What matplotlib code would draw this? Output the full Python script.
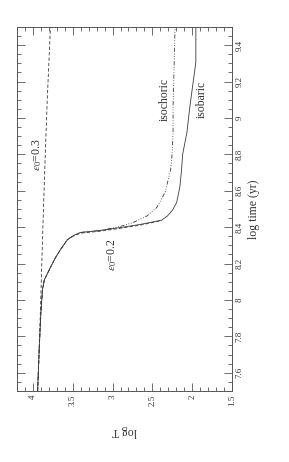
import matplotlib
matplotlib.use("Agg")
import matplotlib.pyplot as plt
from matplotlib.ticker import MultipleLocator, FormatStrFormatter

plt.rcParams["font.family"] = ["Liberation Serif", "DejaVu Serif"]
plt.rcParams["mathtext.fontset"] = "stix"

# isobaric (solid): log time, log T
iso_p_t = [7.50, 7.74, 7.93, 8.06, 8.11, 8.18, 8.233, 8.277, 8.332, 8.354, 8.371,
           8.382, 8.398, 8.415, 8.439, 8.462, 8.495, 8.536, 8.624, 8.718, 8.80,
           8.921, 9.064, 9.306, 9.50]
iso_p_T = [3.941, 3.92, 3.90, 3.879, 3.857, 3.779, 3.716, 3.654, 3.566, 3.49, 3.404,
           3.154, 2.904, 2.654, 2.383, 2.31, 2.245, 2.195, 2.154, 2.133, 2.12,
           2.066, 2.029, 1.954, 1.954]

# isochoric (dash-dot)
iso_v_t = [7.50, 7.74, 7.93, 8.06, 8.11, 8.18, 8.233, 8.277, 8.332, 8.354, 8.371,
           8.382, 8.404, 8.426, 8.461, 8.508, 8.591, 8.663, 8.718, 8.79, 8.92,
           9.064, 9.50]
iso_v_T = [3.941, 3.92, 3.90, 3.879, 3.857, 3.779, 3.716, 3.654, 3.566, 3.49, 3.404,
           3.154, 2.904, 2.741, 2.57, 2.445, 2.341, 2.30, 2.27, 2.254, 2.24,
           2.24, 2.215]

# eps0 = 0.2 (dashed)
e02_t = [7.50, 7.74, 7.93, 8.06, 8.11, 8.18, 8.233, 8.277, 8.332, 8.352, 8.367,
         8.378, 8.394, 8.411, 8.436]
e02_T = [3.941, 3.92, 3.90, 3.879, 3.857, 3.779, 3.716, 3.654, 3.566, 3.49, 3.404,
         3.154, 2.904, 2.654, 2.383]

# eps0 = 0.3 (dashed)
e03_t = [7.50, 7.95, 8.40, 8.80, 9.10, 9.50]
e03_T = [3.94, 3.905, 3.875, 3.845, 3.82, 3.78]

logT_ticks = [4, 3.5, 3, 2.5, 2, 1.5]
time_ticks = [7.6, 7.8, 8.0, 8.2, 8.4, 8.6, 8.8, 9.0, 9.2, 9.4]

fig = plt.figure(figsize=(2.89, 4.62), dpi=100)
ax = fig.add_axes([0.0588, 0.1537, 0.744, 0.7879])

lc = "#3a3a3a"
ax.plot(iso_p_T, iso_p_t, color=lc, lw=0.6)
ax.plot(iso_v_T, iso_v_t, color=lc, lw=0.6, ls=(0, (5, 2, 1, 2, 1, 2, 1, 2)))
ax.plot(e02_T, e02_t, color=lc, lw=0.6, ls=(0, (4, 2.5)))
ax.plot(e03_T, e03_t, color=lc, lw=0.6, ls=(0, (4, 2.5)))

ax.set_xlim(4.2, 1.5)
ax.set_ylim(7.5, 9.5)
ax.set_xticks(logT_ticks)
ax.set_yticks(time_ticks)
ax.xaxis.set_minor_locator(MultipleLocator(0.1))
ax.yaxis.set_minor_locator(MultipleLocator(0.05))
ax.xaxis.set_major_formatter(FormatStrFormatter("%g"))
ax.yaxis.set_major_formatter(FormatStrFormatter("%g"))

ax.yaxis.tick_right()
ax.yaxis.set_label_position("right")
ax.tick_params(which="both", direction="in", top=True, bottom=True,
               left=True, right=True, color="#555555", width=0.6,
               labelsize=6.5, labelcolor="#333333")
ax.tick_params(which="major", length=5.5, pad=2.5)
ax.tick_params(which="minor", length=3)
for lab in ax.get_xticklabels():
    lab.set_rotation(90)
for lab in ax.get_yticklabels():
    lab.set_rotation(90)
    lab.set_va("center")
for s in ax.spines.values():
    s.set_color("#555555")
    s.set_linewidth(0.7)

ax.set_xlabel("log T", rotation=180, fontsize=8.5, color="#333333", labelpad=14)
ax.set_ylabel("log time (yr)", rotation=90, fontsize=8.5, color="#333333",
              labelpad=3)

ax.text(3.94, 8.80, r"$\epsilon_0$=0.3", rotation=90, fontsize=8.5,
        color="#333333", ha="center", va="center")
ax.text(3.0, 8.25, r"$\epsilon_0$=0.2", rotation=90, fontsize=8.5,
        color="#333333", ha="center", va="center")
ax.text(2.345, 9.10, "isochoric", rotation=90, fontsize=8.5,
        color="#333333", ha="center", va="center")
ax.text(1.88, 9.10, "isobaric", rotation=90, fontsize=8.5,
        color="#333333", ha="center", va="center")

fig.savefig("out.png", dpi=100)
